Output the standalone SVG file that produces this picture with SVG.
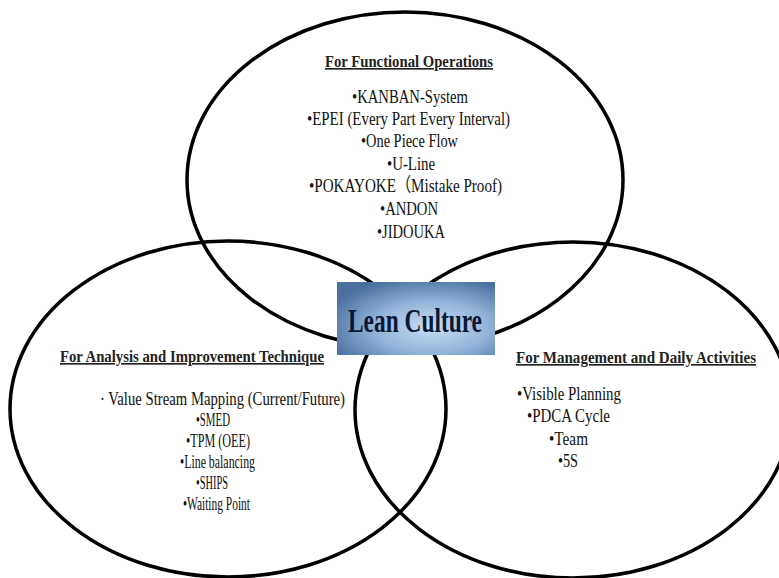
<svg xmlns="http://www.w3.org/2000/svg" width="779" height="578" viewBox="0 0 779 578">
<defs>
<style>
.ring{fill:none;stroke:#000;stroke-width:3.5}
.hd{font-family:"Liberation Serif","Times New Roman",serif;font-weight:bold;font-size:16.5px;fill:#222;text-decoration:underline}
.it{font-family:"Liberation Serif","Times New Roman","Noto Sans CJK JP",serif;font-size:19px;fill:#111}
.lc{font-family:"Liberation Serif","Times New Roman",serif;font-weight:bold;font-size:33px;fill:#0b1836}
</style>
<radialGradient id="boxg" cx="0.6" cy="0.62" r="0.7">
<stop offset="0" stop-color="#c9def4"/>
<stop offset="0.5" stop-color="#93b5da"/>
<stop offset="1" stop-color="#4a70a0"/>
</radialGradient>
</defs>
<rect width="779" height="578" fill="#fff"/>
<g id="functional-operations">
<ellipse class="ring" cx="405" cy="180" rx="218" ry="168"/>
<text class="hd" x="325" y="67" textLength="168" lengthAdjust="spacingAndGlyphs">For Functional Operations</text>
<text class="it" x="352" y="103" textLength="116" lengthAdjust="spacingAndGlyphs">•KANBAN-System</text>
<text class="it" x="307" y="125" textLength="203" lengthAdjust="spacingAndGlyphs">•EPEI (Every Part Every Interval)</text>
<text class="it" x="361" y="147" textLength="97" lengthAdjust="spacingAndGlyphs">•One Piece Flow</text>
<text class="it" x="387" y="170" textLength="48" lengthAdjust="spacingAndGlyphs">•U-Line</text>
<text class="it" x="309" y="192" textLength="193" lengthAdjust="spacingAndGlyphs">•POKAYOKE（Mistake Proof)</text>
<text class="it" x="380" y="215" textLength="58" lengthAdjust="spacingAndGlyphs">•ANDON</text>
<text class="it" x="377" y="238" textLength="68" lengthAdjust="spacingAndGlyphs">•JIDOUKA</text>
</g>
<g id="analysis-improvement">
<ellipse class="ring" cx="228" cy="409" rx="218" ry="168"/>
<text class="hd" x="60" y="362" textLength="264" lengthAdjust="spacingAndGlyphs">For Analysis and Improvement Technique</text>
<text class="it" x="100" y="405" textLength="245" lengthAdjust="spacingAndGlyphs">· Value Stream Mapping (Current/Future)</text>
<text class="it" x="196" y="426" textLength="34" lengthAdjust="spacingAndGlyphs">•SMED</text>
<text class="it" x="186" y="447" textLength="64" lengthAdjust="spacingAndGlyphs">•TPM (OEE)</text>
<text class="it" x="180" y="468" textLength="75" lengthAdjust="spacingAndGlyphs">•Line balancing</text>
<text class="it" x="196" y="489" textLength="32" lengthAdjust="spacingAndGlyphs">•SHIPS</text>
<text class="it" x="183" y="510" textLength="67" lengthAdjust="spacingAndGlyphs">•Waiting Point</text>
</g>
<g id="management-daily">
<ellipse class="ring" cx="573" cy="410" rx="218" ry="168"/>
<text class="hd" x="516" y="363" textLength="240" lengthAdjust="spacingAndGlyphs">For Management and Daily Activities</text>
<text class="it" x="517" y="400" textLength="104" lengthAdjust="spacingAndGlyphs">•Visible Planning</text>
<text class="it" x="527" y="422" textLength="83" lengthAdjust="spacingAndGlyphs">•PDCA Cycle</text>
<text class="it" x="549" y="445" textLength="39" lengthAdjust="spacingAndGlyphs">•Team</text>
<text class="it" x="558" y="467" textLength="20" lengthAdjust="spacingAndGlyphs">•5S</text>
</g>
<g id="connectors"/>
<g id="lean-culture">
<rect x="337" y="282" width="158" height="73" fill="url(#boxg)"/>
<text class="lc" x="348" y="332" textLength="134" lengthAdjust="spacingAndGlyphs">Lean Culture</text>
</g>
</svg>
